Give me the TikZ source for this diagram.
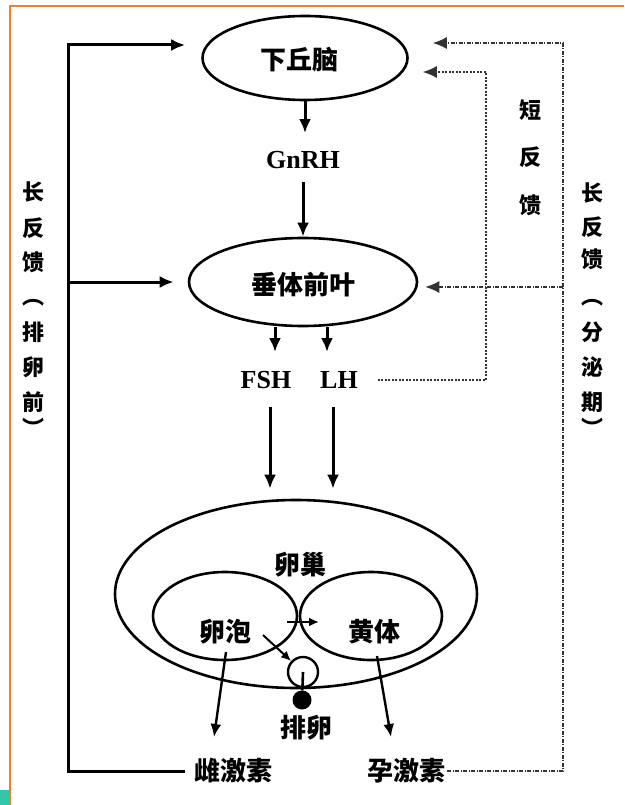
\documentclass[tikz,border=0pt]{standalone}
\usepackage{fontspec}
\setmainfont{Liberation Serif}
\newfontfamily\cjk{Noto Sans CJK SC}
\usetikzlibrary{shapes.geometric,arrows.meta}
\definecolor{frameorange}{HTML}{F07F2E}
\definecolor{frameteal}{HTML}{33C5A8}
\begin{document}
\begin{tikzpicture}[x=1pt,y=1pt,
  organ/.style={draw, ellipse, line width=2.6pt, inner sep=0pt},
  lbl/.style={font=\cjk\bfseries\fontsize{26}{26}\selectfont, inner sep=0pt},
  hormone/.style={font=\bfseries\fontsize{26}{26}\selectfont, inner sep=0pt},
  side/.style={font=\cjk\bfseries\fontsize{22}{22}\selectfont, inner sep=0pt},
  bigtip/.style={-{Latex[length=14pt,width=12pt]}},
  solidarrow/.style={line width=3pt, bigtip},
  thinarrow/.style={line width=2.4pt, -{Latex[length=13pt,width=11pt]}},
  smallarrow/.style={line width=2pt, -{Latex[length=10pt,width=9pt]}},
  longdot/.style={line width=1.4pt, black!80, dash pattern=on 4pt off 1.5pt on 1pt off 1.5pt},
  shortdot/.style={line width=1.4pt, black!80, dash pattern=on 2pt off 1.5pt},
]
\useasboundingbox (0,0) rectangle (624,-805);
\fill[white] (0,0) rectangle (624,-805);
% frame
\draw[frameorange, line width=2.2pt] (10,-805) -- (10,-6) -- (624,-6);
\fill[frameteal] (0,-790) rectangle (9,-805);

% main nodes
\node[organ, minimum width=205pt, minimum height=84pt] (hyp) at (305,-58) {};
\node[lbl] (hyptxt) at (299,-60) {下丘脑};
\node[hormone] (gnrh) at (303,-160) {GnRH};
\node[organ, minimum width=228pt, minimum height=88pt] (ant) at (303,-282) {};
\node[lbl] (anttxt) at (303,-285) {垂体前叶};
\node[hormone] (fsh) at (266,-380) {FSH};
\node[hormone] (lh) at (339,-380) {LH};

\node[organ, minimum width=362pt, minimum height=188pt] (ovary) at (296,-594) {};
\node[lbl] (ovtxt) at (300,-565) {卵巢};
\node[organ, minimum width=144pt, minimum height=88pt] (fol) at (225,-616) {};
\node[lbl] (foltxt) at (225,-632) {卵泡};
\node[organ, minimum width=142pt, minimum height=88pt] (lut) at (371,-616) {};
\node[lbl] (luttxt) at (374,-632) {黄体};

\node[draw, circle, line width=2.4pt, minimum size=30pt, inner sep=0pt] (ovc) at (303,-672) {};
\node[fill, circle, minimum size=19pt, inner sep=0pt] (dot) at (302,-700) {};
\node[lbl] (ovul) at (306,-728) {排卵};
\node[lbl] (est) at (233,-771) {雌激素};
\node[lbl] (prog) at (406,-771) {孕激素};

% side labels
\foreach \c/\yy [count=\i] in {长/192,反/228,馈/262,︵/303,排/332,卵/367,前/402,︶/427}
  \node[side] (ll\i) at (33,-\yy) {\c};
\foreach \c/\yy [count=\i] in {长/193,反/227,馈/259,︵/303,分/332,泌/367,期/402,︶/427}
  \node[side] (rl\i) at (592,-\yy) {\c};
\foreach \c/\yy [count=\i] in {短/110,反/157,馈/205}
  \node[side] (sl\i) at (530,-\yy) {\c};

% axis arrows
\draw[solidarrow, shorten >=18pt] (hyp) -- (hyp |- gnrh.north);
\draw[solidarrow, shorten <=13pt] (gnrh) -- (ant);
\coordinate (fshin) at (275,-352);
\coordinate (lhin) at (327,-352);
\draw[solidarrow] (ant.south -| fshin) -- (fshin);
\draw[solidarrow] (ant.south -| lhin) -- (lhin);
\coordinate (fa) at (270,-407);
\coordinate (la) at (333,-407);
\draw[solidarrow, shorten >=10pt] (fa) -- (fa |- ovary.north);
\draw[solidarrow, shorten >=10pt] (la) -- (la |- ovary.north);

% ovary internals
\draw[smallarrow] (287,-622) -- (319,-622);
\draw[smallarrow] (263,-635) -- (ovc);
\draw[line width=2.6pt] (ovc.center) -- (dot);
\coordinate (ea) at (226,-652);
\coordinate (eb) at (214,-737);
\coordinate (pa) at (377,-656);
\coordinate (pb) at (391,-737);
\draw[thinarrow] (ea) -- (eb);
\draw[thinarrow] (pa) -- (pb);

% long feedback (left, solid)
\coordinate (lt) at (68,-45);
\coordinate (lb) at (68,-282);
\draw[solidarrow, shorten <=9pt, shorten >=16pt] (est.west) -| (lt) -- (lt -| hyp.west);
\draw[solidarrow, shorten >=14pt] (lb) -- (lb -| ant.west);

% long feedback (right, dotted)
\coordinate (rt) at (563,-43);
\coordinate (rb) at (563,-287);
\draw[longdot, bigtip, shorten <=2pt, shorten >=24pt] (prog.east) -| (rt) -- (rt -| hyp.east);
\draw[longdot, bigtip, shorten >=7pt] (rb) -- (rb -| ant.east);

% short feedback
\coordinate (st) at (486,-72);
\draw[shortdot, bigtip, shorten <=20pt, shorten >=14pt] (lh.east) -| (st) -- (st -| hyp.east);
\end{tikzpicture}
\end{document}
